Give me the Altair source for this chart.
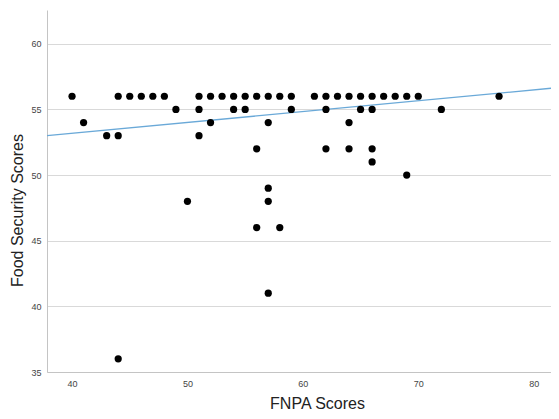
import altair as alt
import pandas as pd

# FNPA score (x) and Food Security score (y)
fnpa = [40, 44, 45, 46, 47, 48, 51, 52, 53, 54, 55, 56, 57, 58, 59,
        61, 62, 63, 64, 65, 66, 67, 68, 69, 70, 77,
        49, 51, 54, 55, 59, 62, 65, 66, 72,
        41, 52, 57, 64,
        43, 44, 51,
        56, 62, 64, 66,
        66, 69, 57, 50, 57, 56, 58, 57, 44]
food = [56] * 26 + [55] * 9 + [54] * 4 + [53] * 3 + [52] * 4 + \
       [51, 50, 49, 48, 48, 46, 46, 41, 36]

# fit line end points
fit_x = [37.83, 81.5]
fit_y = [53.0, 56.61]

x_ticks = [40, 50, 60, 70, 80]
y_ticks = [35, 40, 45, 50, 55, 60]

pts = pd.DataFrame({"FNPA": fnpa, "Food": food})
fit = pd.DataFrame({"FNPA": fit_x, "Food": fit_y})

xscale = alt.Scale(domain=[37.83, 81.5], nice=False, zero=False)
yscale = alt.Scale(domain=[35, 62.57], nice=False, zero=False)

xaxis = alt.Axis(values=x_ticks, title="FNPA Scores", grid=False, ticks=False,
                 domainColor="#c4c4c4", labelFontSize=9, labelColor="#444444",
                 labelFont="Liberation Sans", labelPadding=7,
                 titleFont="Liberation Sans", titleFontSize=16, titleFontWeight="normal",
                 titleColor="#222222", titleX=270, titleY=31, titleBaseline="middle")
yaxis = alt.Axis(values=y_ticks, title="Food Security Scores", grid=True, gridColor="#d9d9d9",
                 ticks=False, domainColor="#c4c4c4", labelFontSize=9, labelColor="#444444",
                 labelFont="Liberation Sans", labelPadding=6,
                 titleFont="Liberation Sans", titleFontSize=16, titleFontWeight="normal",
                 titleColor="#222222", titleX=-29.7, titleY=200, titleBaseline="middle")

points = alt.Chart(pts).mark_circle(size=52, color="#000000", opacity=1).encode(
    x=alt.X("FNPA:Q", scale=xscale, axis=xaxis),
    y=alt.Y("Food:Q", scale=yscale, axis=yaxis),
)

line = alt.Chart(fit).mark_line(color="#6aa9d8", strokeWidth=1.3, clip=True).encode(
    x=alt.X("FNPA:Q", scale=xscale),
    y=alt.Y("Food:Q", scale=yscale),
)

chart = alt.layer(line, points).properties(
    width=504, height=362,
    autosize=alt.AutoSizeParams(type="none"),
    padding={"left": 39, "top": 2, "right": 0, "bottom": 39},
    background="white",
).configure_view(stroke=None)

chart.save("out.html", embed_options={"renderer": "svg", "actions": False})
